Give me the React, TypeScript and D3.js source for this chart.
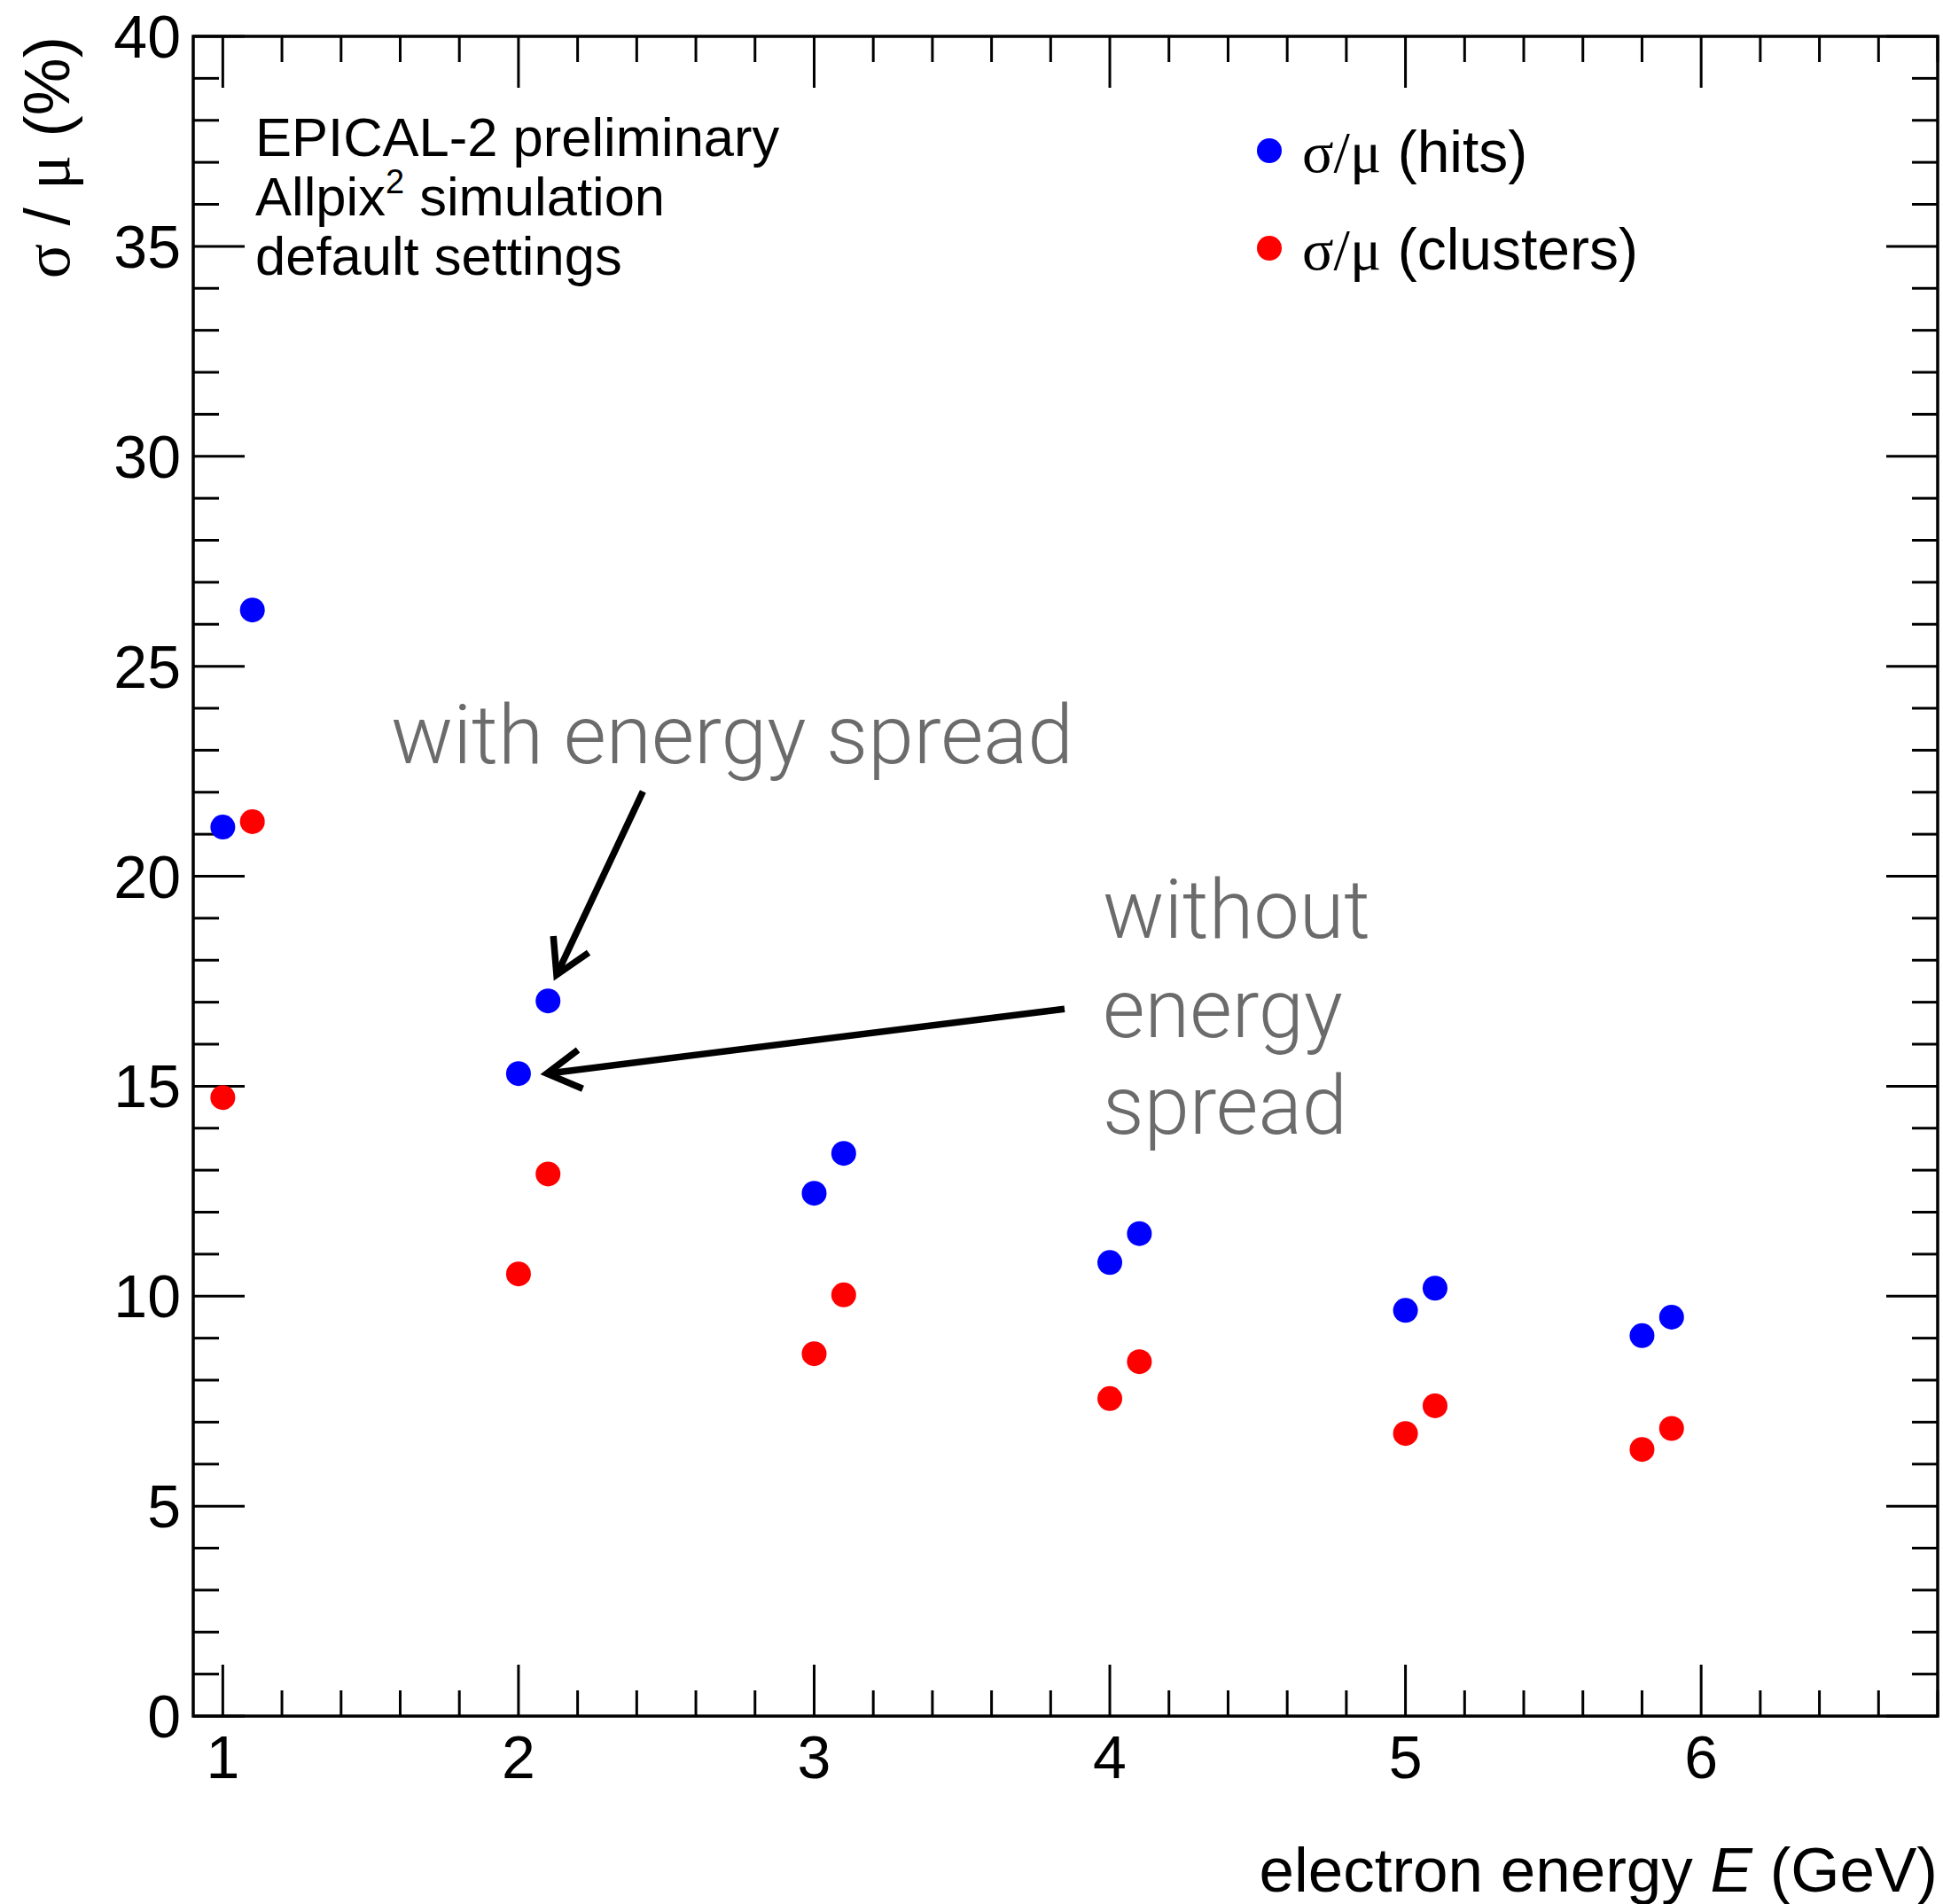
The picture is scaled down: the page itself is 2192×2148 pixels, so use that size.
import React from "react";
import * as d3 from "d3";

// Beam energies (GeV) for each simulated point
const energies = [1.0, 1.1, 2.0, 2.1, 3.0, 3.1, 4.0, 4.1, 5.0, 5.1, 5.8, 5.9];
// Relative resolution sigma/mu in % from hit counting
const hitsValues = [21.17, 26.34, 15.3, 17.03, 12.45, 13.4, 10.8, 11.49, 9.66, 10.19, 9.06, 9.5];
// Relative resolution sigma/mu in % from cluster counting
const clusterValues = [14.73, 21.3, 10.53, 12.91, 8.63, 10.03, 7.56, 8.44, 6.73, 7.39, 6.35, 6.85];

const xMajorTicks = [1, 2, 3, 4, 5, 6];
const yMajorTicks = [0, 5, 10, 15, 20, 25, 30, 35, 40];
const infoLines = ["EPICAL-2 preliminary", "Allpix", "default settings"];

const W = 2192;
const H = 2148;
const left = 218;
const right = 2186;
const top = 41;
const bottom = 1936;

const x = d3.scaleLinear().domain([0.9, 6.8]).range([left, right]);
const y = d3.scaleLinear().domain([0, 40]).range([bottom, top]);

const xMinorTicks = d3.range(1, 6.801, 0.2).map((v) => +v.toFixed(2));
const yMinorTicks = d3.range(0, 40.001, 1);

const HELV = "'Liberation Sans', Arial, Helvetica, sans-serif";
const SERIF = "'Liberation Serif', 'Times New Roman', serif";
const LIGHT = "Roboto, 'Open Sans', Lato, sans-serif";

function Arrow({ x0, y0, x1, y1 }: { x0: number; y0: number; x1: number; y1: number }) {
  const sx = x(x0), sy = y(y0), tx = x(x1), ty = y(y1);
  const ang = Math.atan2(sy - ty, sx - tx);
  const len = 44;
  const spread = (30 * Math.PI) / 180;
  const h1 = [tx + len * Math.cos(ang + spread), ty + len * Math.sin(ang + spread)];
  const h2 = [tx + len * Math.cos(ang - spread), ty + len * Math.sin(ang - spread)];
  return (
    <g stroke="#000" strokeWidth={7.5} fill="none" strokeLinecap="butt">
      <line x1={sx} y1={sy} x2={tx} y2={ty} />
      <polyline points={`${h1[0]},${h1[1]} ${tx},${ty} ${h2[0]},${h2[1]}`} strokeLinejoin="miter" />
    </g>
  );
}

export default function App() {
  const majorLen = 58;
  const minorLen = 29;
  return (
    <svg
      width={W}
      height={H}
      style={{ position: "absolute", left: 0, top: 0, display: "block", background: "#fff" }}
    >
      <rect x={0} y={0} width={W} height={H} fill="#fff" />
      {/* ticks on all four sides */}
      <g stroke="#000" strokeWidth={3}>
        {xMinorTicks.map((t) => {
          const major = xMajorTicks.includes(Math.round(t * 10) / 10);
          const l = major ? majorLen : minorLen;
          return (
            <g key={"xt" + t}>
              <line x1={x(t)} x2={x(t)} y1={bottom} y2={bottom - l} />
              <line x1={x(t)} x2={x(t)} y1={top} y2={top + l} />
            </g>
          );
        })}
        {yMinorTicks.map((t) => {
          const major = yMajorTicks.includes(t);
          const l = major ? majorLen : minorLen;
          return (
            <g key={"yt" + t}>
              <line x1={left} x2={left + l} y1={y(t)} y2={y(t)} />
              <line x1={right} x2={right - l} y1={y(t)} y2={y(t)} />
            </g>
          );
        })}
      </g>
      <rect x={left} y={top} width={right - left} height={bottom - top} fill="none" stroke="#000" strokeWidth={3.5} />

      {/* tick labels */}
      <g fontFamily={HELV} fontSize={68} fill="#000">
        {yMajorTicks.map((t) => (
          <text key={"yl" + t} x={left - 14} y={y(t) + 24} textAnchor="end">
            {t}
          </text>
        ))}
        {xMajorTicks.map((t) => (
          <text key={"xl" + t} x={x(t)} y={2006} textAnchor="middle">
            {t}
          </text>
        ))}
      </g>

      {/* axis titles */}
      <text x={right} y={2134} textAnchor="end" fontFamily={HELV} fontSize={71} fill="#000">
        electron energy <tspan fontStyle="italic">E</tspan> (GeV)
      </text>
      <text
        transform={`translate(78, ${top}) rotate(-90)`}
        textAnchor="end"
        fontFamily={HELV}
        fontSize={73}
        fill="#000"
      >
        <tspan fontFamily={SERIF}>σ</tspan> / <tspan fontFamily={SERIF}>μ</tspan> (%)
      </text>

      {/* info block */}
      <g fontFamily={HELV} fontSize={61.5} fill="#000">
        <text x={288} y={176}>{infoLines[0]}</text>
        <text x={288} y={243}>
          {infoLines[1]}
          <tspan fontSize={38} dy={-25}>2</tspan>
          <tspan dy={25}> simulation</tspan>
        </text>
        <text x={288} y={310}>{infoLines[2]}</text>
      </g>

      {/* legend */}
      <g fontSize={66} fill="#000">
        <circle cx={1432} cy={170} r={14} fill="#0000ff" />
        <text x={1469} y={194} fontFamily={HELV}>
          <tspan fontFamily={SERIF}>σ/μ</tspan> (hits)
        </text>
        <circle cx={1432} cy={280} r={14} fill="#ff0000" />
        <text x={1469} y={304} fontFamily={HELV}>
          <tspan fontFamily={SERIF}>σ/μ</tspan> (clusters)
        </text>
      </g>

      {/* annotations */}
      <g fontFamily={LIGHT} fontWeight={300} fill="#6b6b6b">
        <text x={441} y={861} fontSize={93}>with energy spread</text>
        <text x={1244} y={1058} fontSize={92}>without</text>
        <text x={1244} y={1170} fontSize={92}>energy</text>
        <text x={1244} y={1279} fontSize={92}>spread</text>
      </g>
      <Arrow x0={2.421} y0={22.02} x1={2.129} y1={17.65} />
      <Arrow x0={3.847} y0={16.84} x1={2.096} y1={15.3} />

      {/* data points */}
      <g>
        {energies.map((e, i) => (
          <circle key={"h" + i} cx={x(e)} cy={y(hitsValues[i])} r={14} fill="#0000ff" />
        ))}
        {energies.map((e, i) => (
          <circle key={"c" + i} cx={x(e)} cy={y(clusterValues[i])} r={14} fill="#ff0000" />
        ))}
      </g>
    </svg>
  );
}
